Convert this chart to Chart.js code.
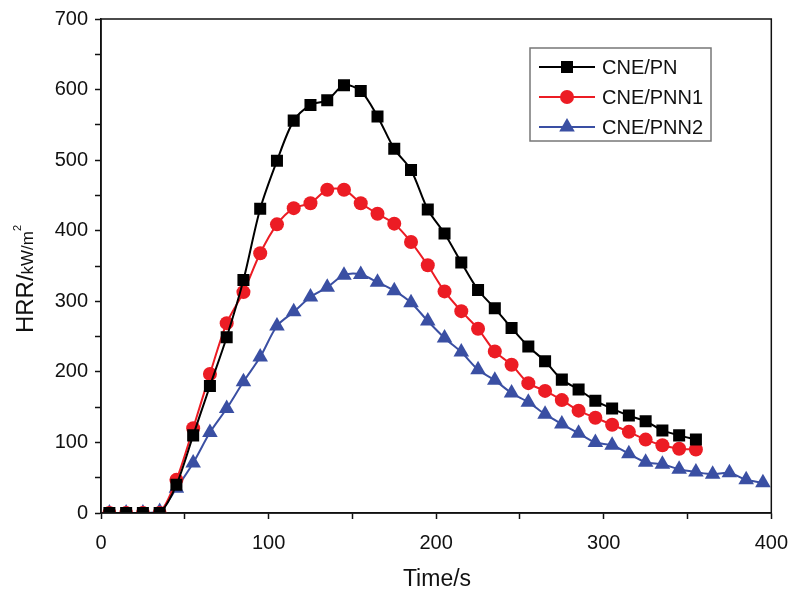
<!DOCTYPE html>
<html>
<head>
<meta charset="utf-8">
<title>HRR curves</title>
<script src="https://cdn.jsdelivr.net/npm/chart.js@4.4.1/dist/chart.umd.min.js"></script>
<style>
    html, body { margin: 0; padding: 0; background: #fff; }
    #wrap { width: 800px; height: 599px; position: relative; }
</style>
</head>
<body>
<div id="wrap"><canvas id="hrrChart"></canvas></div>
<script>
// Data (time in s, HRR in kW/m2)
const timePN = [5, 15, 25, 35, 45, 55, 65, 75, 85, 95, 105, 115, 125, 135, 145, 155, 165, 175, 185, 195,
    205, 215, 225, 235, 245, 255, 265, 275, 285, 295, 305, 315, 325, 335, 345, 355];
const hrrPN = [0, 0, 0, 0, 40, 110, 180, 249, 330, 431, 499, 556, 578, 585, 606, 598, 562, 516, 486, 430,
    396, 355, 316, 290, 262, 236, 215, 189, 175, 159, 148, 138, 130, 117, 110, 104];

const timePNN1 = [5, 15, 25, 35, 45, 55, 65, 75, 85, 95, 105, 115, 125, 135, 145, 155, 165, 175, 185, 195,
    205, 215, 225, 235, 245, 255, 265, 275, 285, 295, 305, 315, 325, 335, 345, 355];
const hrrPNN1 = [0, 0, 0, 0, 47, 120, 197, 269, 313, 368, 409, 432, 439, 458, 458, 439, 424, 410, 384, 351,
    314, 286, 261, 229, 210, 184, 173, 160, 145, 135, 125, 115, 104, 96, 91, 90];

const timePNN2 = [5, 15, 25, 35, 45, 55, 65, 75, 85, 95, 105, 115, 125, 135, 145, 155, 165, 175, 185, 195,
    205, 215, 225, 235, 245, 255, 265, 275, 285, 295, 305, 315, 325, 335, 345, 355, 365, 375, 385, 395];
const hrrPNN2 = [0, 0, 0, 2, 35, 71, 114, 148, 186, 221, 265, 285, 306, 320, 337, 338, 327, 315, 298, 272,
    248, 228, 203, 188, 170, 157, 140, 126, 113, 100, 96, 84, 72, 69, 62, 58, 55, 57, 47, 43];

const seriesNames = ['CNE/PN', 'CNE/PNN1', 'CNE/PNN2'];
const xTicks = [0, 100, 200, 300, 400];
const yTicks = [0, 100, 200, 300, 400, 500, 600, 700];

const FONT = '"Liberation Sans", Arial, sans-serif';

function toPoints(xs, ys) {
    return xs.map((x, i) => ({ x: x, y: ys[i] }));
}

// Frame around the plot area (top and right edges)
const framePlugin = {
    id: 'frame',
    afterDatasetsDraw(chart) {
        const { ctx, chartArea: a } = chart;
        ctx.save();
        ctx.strokeStyle = '#111';
        ctx.lineWidth = 1.5;
        ctx.strokeRect(a.left, a.top, a.right - a.left, a.bottom - a.top);
        ctx.restore();
    }
};

// Axis titles, the y one has a small unit with a superscript
const titlesPlugin = {
    id: 'titles',
    afterDraw(chart) {
        const { ctx } = chart;
        ctx.save();
        ctx.fillStyle = '#111';
        ctx.textBaseline = 'alphabetic';

        // x title
        ctx.font = '23px ' + FONT;
        ctx.textAlign = 'center';
        ctx.fillText('Time/s', 437, 586);

        // y title, rotated
        ctx.translate(33, 279);
        ctx.rotate(-Math.PI / 2);
        ctx.textAlign = 'left';
        const big = 'HRR/';
        const small = 'kW/m';
        ctx.font = '24px ' + FONT;
        const wBig = ctx.measureText(big).width;
        ctx.font = '17px ' + FONT;
        const wSmall = ctx.measureText(small).width;
        ctx.font = '11px ' + FONT;
        const wSup = ctx.measureText('2').width;
        let x = -(wBig + wSmall + wSup) / 2;
        ctx.font = '24px ' + FONT;
        ctx.fillText(big, x, 0);
        x += wBig;
        ctx.font = '17px ' + FONT;
        ctx.fillText(small, x, 0);
        x += wSmall;
        ctx.font = '11px ' + FONT;
        ctx.fillText('2', x, -12);
        ctx.restore();
    }
};

// Legend box inside the plot area
const legendPlugin = {
    id: 'boxLegend',
    afterDraw(chart) {
        const { ctx } = chart;
        const left = 530, top = 48, w = 181, h = 93;
        ctx.save();
        ctx.fillStyle = '#fff';
        ctx.fillRect(left, top, w, h);
        ctx.strokeStyle = '#777';
        ctx.lineWidth = 1.5;
        ctx.strokeRect(left, top, w, h);
        chart.data.datasets.forEach((ds, i) => {
            const y = 67 + i * 30;
            ctx.strokeStyle = ds.borderColor;
            ctx.lineWidth = 2;
            ctx.beginPath();
            ctx.moveTo(539, y);
            ctx.lineTo(595, y);
            ctx.stroke();
            ctx.fillStyle = ds.backgroundColor;
            Chart.helpers.drawPoint(ctx, {
                pointStyle: ds.pointStyle,
                radius: ds.pointRadius,
                borderWidth: 0
            }, 567, y);
            ctx.fillStyle = '#111';
            ctx.font = '20px ' + FONT;
            ctx.textAlign = 'left';
            ctx.textBaseline = 'middle';
            ctx.fillText(ds.label, 602, y + 1);
        });
        ctx.restore();
    }
};

const ctx = document.getElementById('hrrChart').getContext('2d');
const chart = new Chart(ctx, {
    type: 'line',
    data: {
        datasets: [
            {
                label: seriesNames[0],
                data: toPoints(timePN, hrrPN),
                borderColor: '#000000',
                backgroundColor: '#000000',
                pointStyle: 'rect',
                pointRadius: 8.5,
                pointBorderWidth: 0,
                borderWidth: 2,
                tension: 0.3
            },
            {
                label: seriesNames[1],
                data: toPoints(timePNN1, hrrPNN1),
                borderColor: '#ec1c24',
                backgroundColor: '#ec1c24',
                pointStyle: 'circle',
                pointRadius: 7,
                pointBorderWidth: 0,
                borderWidth: 2,
                tension: 0.3
            },
            {
                label: seriesNames[2],
                data: toPoints(timePNN2, hrrPNN2),
                borderColor: '#3a4fa3',
                backgroundColor: '#3a4fa3',
                pointStyle: 'triangle',
                pointRadius: 9,
                pointBorderWidth: 0,
                borderWidth: 2,
                tension: 0.3
            }
        ]
    },
    options: {
        responsive: true,
        maintainAspectRatio: false,
        animation: false,
        layout: { padding: { left: 0, right: 28, top: 17, bottom: 0 } },
        plugins: {
            legend: { display: false },
            tooltip: { enabled: false }
        },
        scales: {
            x: {
                type: 'linear',
                min: 0,
                max: 400,
                afterFit(scale) { scale.height = 86; },
                afterBuildTicks(scale) {
                    scale.ticks = [0, 50, 100, 150, 200, 250, 300, 350, 400].map(v => ({ value: v }));
                },
                ticks: {
                    color: '#111',
                    font: { family: FONT, size: 20 },
                    padding: 12,
                    maxRotation: 0,
                    callback: (v) => xTicks.includes(v) ? String(v) : ''
                },
                grid: {
                    drawOnChartArea: false,
                    drawTicks: true,
                    tickLength: 6,
                    tickWidth: 1.5,
                    tickColor: '#111'
                },
                border: { color: '#111', width: 1.5 }
            },
            y: {
                min: 0,
                max: 700,
                afterFit(scale) { scale.width = 101; },
                afterBuildTicks(scale) {
                    const t = [];
                    for (let v = 0; v <= 700; v += 50) t.push({ value: v });
                    scale.ticks = t;
                },
                ticks: {
                    color: '#111',
                    font: { family: FONT, size: 20 },
                    padding: 7,
                    callback: (v) => yTicks.includes(v) ? String(v) : ''
                },
                grid: {
                    drawOnChartArea: false,
                    drawTicks: true,
                    tickLength: 6,
                    tickWidth: 1.5,
                    tickColor: '#111'
                },
                border: { color: '#111', width: 1.5 }
            }
        }
    },
    plugins: [framePlugin, titlesPlugin, legendPlugin]
});
</script>
</body>
</html>
